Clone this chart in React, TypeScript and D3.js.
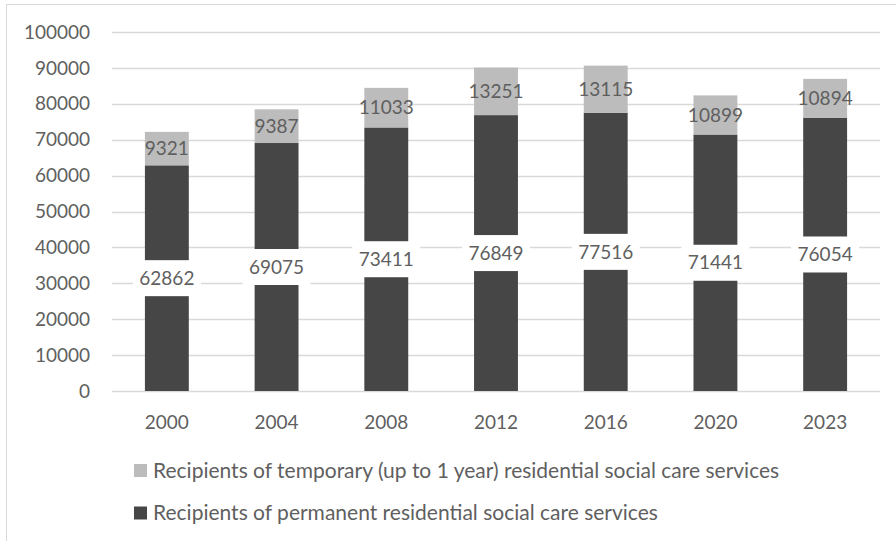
import React from "react";
import * as d3 from "d3";

const years = ["2000", "2004", "2008", "2012", "2016", "2020", "2023"];
const permanent = [62862, 69075, 73411, 76849, 77516, 71441, 76054];
const temporary = [9321, 9387, 11033, 13251, 13115, 10899, 10894];
const yTicks = [0, 10000, 20000, 30000, 40000, 50000, 60000, 70000, 80000, 90000, 100000];
const legendLabels = [
  "Recipients of temporary (up to 1 year) residential social care services",
  "Recipients of permanent residential social care services",
];

const W = 896;
const H = 541;
const FONT = "Lato, 'Open Sans', sans-serif";
const DARK = "#464646";
const LIGHT = "#bcbcbc";
const TEXT = "#5f5f5f";

export default function App() {
  const x = d3.scaleBand<string>().domain(years).range([112, 880]).paddingInner(0.6).paddingOuter(0.3);
  const y = d3.scaleLinear().domain([0, 100000]).range([391, 32]);
  const bw = x.bandwidth();
  const fs = 19;

  return (
    <svg width={W} height={H} style={{ position: "absolute", left: 0, top: 0, background: "#fff" }} fontFamily={FONT}>
      <rect x={6.5} y={4.5} width={W + 20} height={H + 20} fill="#fff" stroke="#d9d9d9" />
      {yTicks.map((t) => (
        <g key={t}>
          <line x1={112} x2={880} y1={Math.round(y(t)) + 0.5} y2={Math.round(y(t)) + 0.5} stroke="#d9d9d9" strokeWidth={1.3} />
          <text x={90} y={y(t)} dy="0.35em" textAnchor="end" fontSize={fs} fill={TEXT}>
            {t}
          </text>
        </g>
      ))}
      {years.map((yr, i) => {
        const x0 = x(yr)!;
        const p = permanent[i];
        const t = temporary[i];
        return (
          <g key={yr}>
            <rect x={x0} y={y(p)} width={bw} height={y(0) - y(p)} fill={DARK} />
            <rect x={x0} y={y(p + t)} width={bw} height={y(p) - y(p + t)} fill={LIGHT} />
          </g>
        );
      })}
      {years.map((yr, i) => {
        const cx = x(yr)! + bw / 2;
        const p = permanent[i];
        const t = temporary[i];
        const label = String(p);
        const boxW = label.length * 11.2 + 12;
        return (
          <g key={"l" + yr}>
            <rect x={cx - boxW / 2} y={y(p / 2) - 18} width={boxW} height={36} fill="#fff" />
            <text x={cx} y={y(p / 2)} dy="0.35em" textAnchor="middle" fontSize={fs} fill={TEXT}>
              {label}
            </text>
            <text x={cx} y={y(p + t / 2)} dy="0.35em" textAnchor="middle" fontSize={fs} fill={TEXT}>
              {t}
            </text>
          </g>
        );
      })}
      {years.map((yr) => (
        <text key={"x" + yr} x={x(yr)! + bw / 2} y={422} dy="0.35em" textAnchor="middle" fontSize={fs} fill={TEXT}>
          {yr}
        </text>
      ))}
      {legendLabels.map((l, i) => {
        const cy = 470.5 + i * 42.5;
        return (
          <g key={l}>
            <rect x={134} y={cy - 6.5} width={13} height={13} fill={i === 0 ? LIGHT : DARK} />
            <text x={153} y={cy} dy="0.35em" fontSize={21} fill={TEXT}>
              {l}
            </text>
          </g>
        );
      })}
    </svg>
  );
}
